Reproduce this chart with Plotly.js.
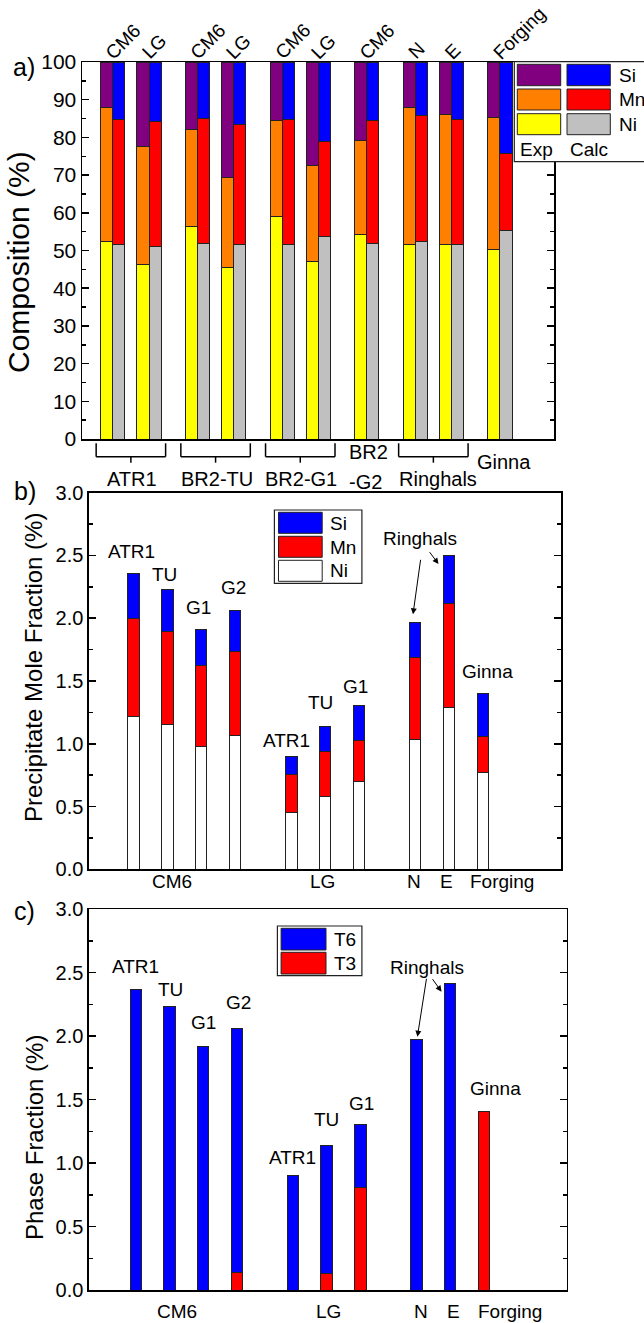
<!DOCTYPE html>
<html>
<head>
<meta charset="utf-8">
<script src="https://cdn.plot.ly/plotly-3.0.1.min.js"></script>
<style>html,body{margin:0;padding:0;background:#fff;}#chart{width:644px;height:1323px;}</style>
</head>
<body>
<div id="chart"></div>
<script>
// ---------------- Data ----------------
// Panel a: composition of precipitates (%), experimental vs calculated
const groupsA = ['ATR1', 'BR2-TU', 'BR2-G1', 'BR2-G2', 'Ringhals', 'Ginna'];
const materialsA = [['CM6', 'LG'], ['CM6', 'LG'], ['CM6', 'LG'], ['CM6'], ['N', 'E'], ['Forging']];
const expNi  = [52.5, 46.2, 56.4, 45.5, 58.9, 47.0, 54.2, 51.7, 51.6, 50.3];
const expMn  = [35.5, 31.3, 25.7, 23.9, 25.5, 25.6, 25.1, 36.3, 34.5, 35.0];
const expSi  = [12.0, 22.5, 17.9, 30.6, 15.6, 27.4, 20.7, 12.0, 13.9, 14.7];
const calcNi = [51.6, 51.0, 51.9, 51.5, 51.6, 53.7, 51.9, 52.4, 51.5, 55.2];
const calcMn = [33.2, 33.2, 33.2, 31.9, 33.1, 25.3, 32.5, 33.4, 33.3, 20.5];
const calcSi = [15.2, 15.8, 14.9, 16.6, 15.3, 21.0, 15.6, 14.2, 15.2, 24.3];

// Panel b: precipitate mole fraction (%)
const groupsB = ['CM6', 'LG', 'Other'];
const samplesB = [['ATR1', 'TU', 'G1', 'G2'], ['ATR1', 'TU', 'G1'], ['N', 'E', 'Forging']];
const niB = [1.22, 1.155, 0.98, 1.065, 0.455, 0.58, 0.70, 1.035, 1.285, 0.77];
const mnB = [0.78, 0.74, 0.64, 0.67, 0.30, 0.36, 0.33, 0.655, 0.835, 0.29];
const siB = [0.36, 0.335, 0.29, 0.325, 0.145, 0.195, 0.275, 0.28, 0.38, 0.34];

// Panel c: phase fraction (%)
const t3C = [0, 0, 0, 0.14, 0, 0.13, 0.81, 0, 0, 1.405];
const t6C = [2.365, 2.23, 1.915, 1.92, 0.90, 1.005, 0.495, 1.97, 2.41, 0];

// Axis ticks
const tickValsA = [0, 10, 20, 30, 40, 50, 60, 70, 80, 90, 100];
const tickValsBC = [0, 0.5, 1.0, 1.5, 2.0, 2.5, 3.0];

// ---------------- Colours ----------------
const C = {purple: '#800080', orange: '#FF8000', yellow: '#FFFF00', blue: '#0000FF', red: '#FF0000', gray: '#C0C0C0', white: '#FFFFFF'};
const EDGE = '#222';
const FONT = "Arial, 'Liberation Sans', Helvetica, sans-serif";

// ---------------- Helpers ----------------
const W = 644, H = 1323;
const PX = v => v / W;
const PY = v => 1 - v / H;

// positions of pairs in panel a (within group step 3, between groups step 4)
const posA = [];
const groupCenterA = [];
(function () {
  let p = null;
  materialsA.forEach(ms => {
    const members = [];
    ms.forEach((m, i) => {
      if (p === null) p = 0; else p += (i === 0 ? 4 : 3);
      posA.push(p); members.push(p);
    });
    groupCenterA.push(members.reduce((a, b) => a + b, 0) / members.length);
  });
})();
const flatMatA = materialsA.flat();

// positions of bars in panels b and c (within group step 1, between groups step 5/3)
const posB = [];
(function () {
  let p = null;
  samplesB.forEach(ss => {
    ss.forEach((s, i) => {
      if (p === null) p = 0; else p += (i === 0 ? 5 / 3 : 1);
      posB.push(p);
    });
  });
})();

function barTrace(x, y, color, xa, ya, width, name) {
  return {type: 'bar', x: x, y: y, width: width, name: name, xaxis: xa, yaxis: ya,
    marker: {color: color, line: {color: EDGE, width: 1}}, hoverinfo: 'x+y+name'};
}

const traces = [];
const xExp = posA.map(p => p - 0.5);
const xCalc = posA.map(p => p + 0.5);
traces.push(barTrace(xExp, expNi, C.yellow, 'x', 'y', 1, 'Exp Ni'));
traces.push(barTrace(xExp, expMn, C.orange, 'x', 'y', 1, 'Exp Mn'));
traces.push(barTrace(xExp, expSi, C.purple, 'x', 'y', 1, 'Exp Si'));
traces.push(barTrace(xCalc, calcNi, C.gray, 'x', 'y', 1, 'Calc Ni'));
traces.push(barTrace(xCalc, calcMn, C.red, 'x', 'y', 1, 'Calc Mn'));
traces.push(barTrace(xCalc, calcSi, C.blue, 'x', 'y', 1, 'Calc Si'));

traces.push(barTrace(posB, niB, C.white, 'x2', 'y2', 0.34, 'Ni'));
traces.push(barTrace(posB, mnB, C.red, 'x2', 'y2', 0.34, 'Mn'));
traces.push(barTrace(posB, siB, C.blue, 'x2', 'y2', 0.34, 'Si'));

traces.push(barTrace(posB, t3C, C.red, 'x3', 'y3', 0.34, 'T3'));
traces.push(barTrace(posB, t6C, C.blue, 'x3', 'y3', 0.34, 'T6'));

// ---------------- Axes ----------------
function xAxis(domainPx, range, anchor) {
  return {domain: [PX(domainPx[0]), PX(domainPx[1])], range: range, anchor: anchor,
    showline: true, mirror: true, linecolor: '#000', linewidth: 1.5, ticks: '',
    showticklabels: false, showgrid: false, zeroline: false, fixedrange: true};
}
function yAxis(domainPx, range, anchor, tickvals, minorDtick, fmt, size) {
  return {domain: [PY(domainPx[1]), PY(domainPx[0])], range: range, anchor: anchor,
    showline: true, mirror: 'ticks', linecolor: '#000', linewidth: 1.5,
    tickmode: 'array', tickvals: tickvals, tickformat: fmt,
    ticks: 'inside', ticklen: 7, tickwidth: 1.5, tickcolor: '#000',
    minor: {dtick: minorDtick, ticks: 'inside', ticklen: 4, tickwidth: 1.5, tickcolor: '#000', showgrid: false},
    tickfont: {size: size, family: FONT, color: '#000'},
    showgrid: false, zeroline: false, fixedrange: true, automargin: false};
}

// ---------------- Shapes & annotations ----------------
const shapes = [];
const annotations = [];
function rectPx(x0, y0, x1, y1, fill, lw) {
  shapes.push({type: 'rect', xref: 'paper', yref: 'paper', x0: PX(x0), x1: PX(x1), y0: PY(y0), y1: PY(y1),
    fillcolor: fill, line: {color: EDGE, width: lw === undefined ? 1 : lw}, layer: 'above'});
}
function text(t, x, y, size, opts) {
  annotations.push(Object.assign({text: t, x: PX(x), y: PY(y), xref: 'paper', yref: 'paper', showarrow: false,
    font: {size: size, family: FONT, color: '#000'}, xanchor: 'center', yanchor: 'middle'}, opts || {}));
}
function arrow(xHead, yHead, xTail, yTail) {
  annotations.push({text: '', x: PX(xHead), y: PY(yHead), xref: 'paper', yref: 'paper', showarrow: true,
    ax: xTail - xHead, ay: yTail - yHead, arrowhead: 2, arrowsize: 1.2, arrowwidth: 1, arrowcolor: '#000'});
}

// panel labels
text('a)', 23.5, 67, 25);
text('b)', 25, 491, 25);
text('c)', 25, 911, 25);

// y axis titles
text('Composition (%)', 19, 262, 30, {textangle: -90});
text('Precipitate Mole Fraction (%)', 34, 668, 24, {textangle: -90});
text('Phase Fraction (%)', 34, 1138, 24, {textangle: -90});

// panel a: rotated material labels on top
flatMatA.forEach((m, i) => {
  annotations.push({text: m, x: posA[i] - 1.15, y: PY(66), xref: 'x', yref: 'paper', showarrow: false,
    textangle: -45, xanchor: 'left', yanchor: 'bottom', font: {size: 19, family: FONT, color: '#000'}});
});

// panel a: group brackets below axis
materialsA.forEach((ms, gi) => {
  if (ms.length < 2) return;
  const c = groupCenterA[gi];
  const half = 2.87;
  const ln = (x0, y0, x1, y1) => shapes.push({type: 'line', xref: 'x', yref: 'paper', x0: x0, x1: x1, y0: PY(y0), y1: PY(y1), line: {color: '#000', width: 1.5}});
  ln(c - half, 443.3, c - half, 456.7);
  ln(c + half, 443.3, c + half, 456.7);
  ln(c - half, 456.7, c + half, 456.7);
  ln(c, 456.7, c, 462.7);
});
// panel a: group names
text(groupsA[0], 132.2, 479, 20);
text(groupsA[1], 216.7, 479, 20);
text(groupsA[2], 300.8, 479, 20);
text('BR2', 346.7, 451.7, 20, {xanchor: 'left'});
text('-G2', 346.7, 482, 20, {xanchor: 'left'});
text(groupsA[4], 437.5, 479, 20);
text(groupsA[5], 504.4, 462, 20);

// panel a legend
rectPx(514.3, 61.7, 660, 161.7, '#FFFFFF', 1.2);
rectPx(517.3, 64.3, 560.7, 85.7, C.purple);
rectPx(567, 64.3, 610.3, 85.7, C.blue);
rectPx(517.3, 89, 560.7, 110, C.orange);
rectPx(567, 89, 610.3, 110, C.red);
rectPx(517.3, 113.7, 560.7, 134.7, C.yellow);
rectPx(567, 113.7, 610.3, 134.7, C.gray);
text('Si', 616.7, 75.5, 19, {xanchor: 'left'});
text('Mn', 616.7, 99.5, 19, {xanchor: 'left'});
text('Ni', 616.7, 124, 19, {xanchor: 'left'});
text('Exp', 518.3, 149, 19, {xanchor: 'left'});
text('Calc', 568.3, 149, 19, {xanchor: 'left'});

// panel b legend
rectPx(274.4, 510, 361.9, 583.3, '#FFFFFF', 1.2);
rectPx(278.5, 512.3, 322.2, 533.3, C.blue);
rectPx(278.5, 536.3, 322.2, 557.3, C.red);
rectPx(278.5, 560.3, 322.2, 581.3, C.white);
text('Si', 328.5, 523, 19, {xanchor: 'left'});
text('Mn', 328.5, 547, 19, {xanchor: 'left'});
text('Ni', 328.5, 571, 19, {xanchor: 'left'});

// panel b sample labels
text(samplesB[0][0], 131.7, 551.7, 19);
text(samplesB[0][1], 164.8, 574, 19);
text(samplesB[0][2], 198, 607, 19);
text(samplesB[0][3], 233.1, 587, 19);
text(samplesB[1][0], 286.3, 740.8, 19);
text(samplesB[1][1], 320.7, 702, 19);
text(samplesB[1][2], 355.4, 686.3, 19);
text('Ringhals', 420.2, 538.5, 19);
text('Ginna', 487.8, 671.8, 19);
arrow(413, 614.3, 420.8, 558.3);
arrow(438.5, 564, 428.5, 550.7);
// panel b x labels
text(groupsB[0], 172, 881, 19);
text(groupsB[1], 322, 881, 19);
text(samplesB[2][0], 414, 881, 19);
text(samplesB[2][1], 446.7, 881, 19);
text(samplesB[2][2], 502, 881, 19);

// panel c legend
rectPx(277.4, 926, 361.9, 975.7, '#FFFFFF', 1.2);
rectPx(281.1, 928.3, 326, 950, C.blue);
rectPx(281.1, 952.3, 326, 974, C.red);
text('T6', 332, 939, 19, {xanchor: 'left'});
text('T3', 332, 963, 19, {xanchor: 'left'});

// panel c sample labels
text(samplesB[0][0], 135, 966, 19);
text(samplesB[0][1], 170.2, 989, 19);
text(samplesB[0][2], 203, 1022, 19);
text(samplesB[0][3], 238.5, 1002.5, 19);
text(samplesB[1][0], 292, 1157, 19);
text(samplesB[1][1], 326.9, 1119, 19);
text(samplesB[1][2], 361.9, 1103.5, 19);
text('Ringhals', 426.7, 967.5, 19);
text('Ginna', 495.2, 1088.5, 19);
arrow(417.4, 1036.7, 426.7, 977.3);
arrow(441.5, 991.7, 431.5, 977.7);
// panel c x labels
text(groupsB[0], 176.7, 1311, 19);
text(groupsB[1], 328, 1311, 19);
text(samplesB[2][0], 420.7, 1311, 19);
text(samplesB[2][1], 453.7, 1311, 19);
text(samplesB[2][2], 510, 1311, 19);

const layout = {
  width: W, height: H,
  margin: {l: 0, r: 0, t: 0, b: 0, pad: 0},
  paper_bgcolor: '#fff', plot_bgcolor: '#fff',
  showlegend: false, barmode: 'stack', bargap: 0,
  font: {family: FONT, color: '#000'},
  xaxis: xAxis([82, 554], [-2.54, 36.47], 'y'),
  yaxis: yAxis([62, 439], [0, 100], 'x', tickValsA, 5, 'd', 21),
  xaxis2: xAxis([88.9, 561.1], [-1.32, 12.65], 'y2'),
  yaxis2: yAxis([492.7, 869.3], [0, 3], 'x2', tickValsBC, 0.25, '.1f', 20),
  xaxis3: xAxis([88.9, 566.7], [-1.39, 12.79], 'y3'),
  yaxis3: yAxis([909, 1290], [0, 3], 'x3', tickValsBC, 0.25, '.1f', 20),
  shapes: shapes,
  annotations: annotations
};

Plotly.newPlot('chart', traces, layout, {staticPlot: true, displayModeBar: false});
</script>
</body>
</html>
